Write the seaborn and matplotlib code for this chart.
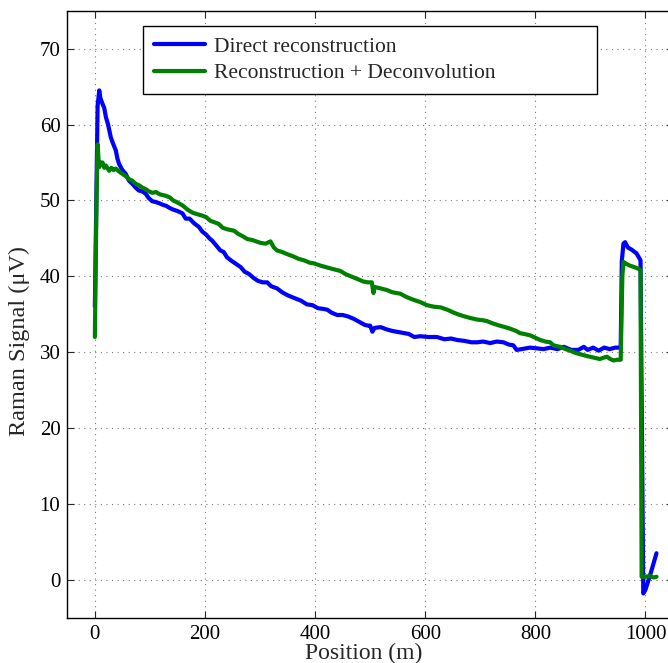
import matplotlib
matplotlib.use("Agg")
import matplotlib.pyplot as plt
import seaborn as sns
import pandas as pd

# Distributed Raman trace along the fibre
direct_pos = [0, 5, 8, 10, 14, 17, 20, 24, 29, 33, 38, 41, 44, 50, 56, 62, 68, 74, 80, 86,
              92, 98, 104, 110, 118, 124, 129, 136, 142, 150, 159, 165, 172, 180, 189, 195,
              202, 208, 213, 220, 228, 234, 240, 247, 255, 265, 272, 280, 288, 296, 305, 313,
              320, 331, 340, 350, 360, 374, 385, 395, 405, 415, 422, 430, 440, 450, 460, 470,
              480, 490, 496, 500, 504, 508, 519, 530, 540, 555, 570, 580, 591, 605, 621, 635,
              647, 658, 670, 684, 694, 705, 718, 730, 742, 752, 760, 766, 775, 790, 803, 815,
              827, 840, 852, 865, 878, 888, 895, 905, 915, 925, 935, 945, 955, 957, 960, 963,
              968, 975, 984, 991, 996, 1000, 1010, 1020]
direct_sig = [36.0, 62.5, 64.5, 63.5, 62.7, 62.2, 61.0, 60.0, 58.3, 57.5, 56.6, 55.5, 54.8,
              54.0, 53.5, 52.6, 52.2, 51.7, 51.3, 51.2, 50.9, 50.3, 49.9, 49.8, 49.6, 49.4,
              49.3, 49.0, 48.8, 48.6, 48.3, 47.6, 47.6, 47.0, 46.5, 45.9, 45.5, 45.0, 44.7,
              44.1, 43.4, 43.2, 42.5, 42.1, 41.7, 41.2, 40.6, 40.3, 39.8, 39.4, 39.2, 39.2,
              38.7, 38.4, 37.9, 37.5, 37.2, 36.8, 36.3, 36.2, 35.8, 35.7, 35.6, 35.2, 34.9,
              34.9, 34.7, 34.4, 34.0, 33.6, 33.5, 33.5, 32.7, 33.2, 33.3, 33.0, 32.8, 32.6,
              32.4, 32.0, 32.1, 32.0, 32.0, 31.7, 31.8, 31.6, 31.5, 31.3, 31.3, 31.4, 31.2,
              31.4, 31.3, 31.0, 30.9, 30.3, 30.4, 30.6, 30.5, 30.4, 30.6, 30.4, 30.7, 30.3,
              30.3, 30.7, 30.3, 30.6, 30.2, 30.6, 30.4, 30.6, 30.6, 42.0, 44.3, 44.5, 43.8,
              43.5, 43.0, 42.1, -1.8, -1.3, 1.0, 3.5]

deconv_pos = [0, 3, 5, 7, 8, 11, 14, 17, 20, 26, 30, 34, 38, 44, 50, 56, 62, 68, 74, 80, 86,
              92, 98, 104, 111, 118, 124, 129, 136, 142, 148, 153, 160, 168, 177, 185, 195,
              202, 210, 218, 225, 232, 240, 247, 253, 260, 268, 277, 285, 293, 301, 310, 319,
              325, 331, 340, 350, 361, 370, 380, 390, 398, 410, 420, 430, 446, 455, 465, 475,
              488, 496, 503, 506, 508, 519, 530, 540, 555, 565, 575, 591, 603, 615, 628, 640,
              652, 663, 672, 682, 694, 705, 712, 722, 735, 745, 754, 765, 772, 780, 791, 800,
              809, 818, 827, 833, 845, 855, 863, 873, 883, 893, 905, 917, 925, 930, 936, 942,
              948, 955, 958, 960, 966, 972, 980, 987, 991, 993, 1000, 1008, 1015, 1020]
deconv_sig = [32.0, 50.0, 57.4, 55.0, 54.4, 55.0, 55.0, 54.3, 54.6, 53.9, 54.3, 54.0, 54.2,
              53.8, 53.5, 53.2, 52.8, 52.6, 52.2, 52.0, 51.7, 51.5, 51.2, 51.0, 51.1, 50.8,
              50.7, 50.6, 50.4, 50.0, 49.8, 49.6, 49.3, 48.8, 48.4, 48.2, 48.0, 47.8, 47.3,
              47.1, 46.9, 46.4, 46.2, 46.1, 46.0, 45.6, 45.3, 44.9, 44.8, 44.6, 44.4, 44.3,
              44.6, 43.8, 43.4, 43.2, 42.9, 42.6, 42.3, 42.1, 41.8, 41.7, 41.4, 41.2, 41.0,
              40.7, 40.3, 40.0, 39.7, 39.3, 39.2, 39.2, 37.8, 38.6, 38.4, 38.2, 37.9, 37.7,
              37.3, 37.0, 36.6, 36.2, 36.0, 35.9, 35.6, 35.2, 34.9, 34.7, 34.5, 34.3, 34.2,
              34.1, 33.8, 33.5, 33.3, 33.1, 32.8, 32.5, 32.4, 32.2, 31.9, 31.6, 31.4, 31.3,
              30.9, 30.7, 30.4, 30.2, 29.9, 29.7, 29.5, 29.3, 29.1, 29.3, 29.4, 29.1, 28.9,
              29.0, 29.0, 40.0, 41.9, 41.6, 41.4, 41.2, 41.0, 40.8, 0.4, 0.4, 0.5, 0.3, 0.4]

series_names = ["Direct reconstruction", "Reconstruction + Deconvolution"]
series_colors = ["#0000ff", "#008000"]
x_ticks = [0, 200, 400, 600, 800, 1000]
y_ticks = [0, 10, 20, 30, 40, 50, 60, 70]

df = pd.concat([
    pd.DataFrame({"pos": direct_pos, "sig": direct_sig, "series": series_names[0]}),
    pd.DataFrame({"pos": deconv_pos, "sig": deconv_sig, "series": series_names[1]}),
], ignore_index=True)

sns.set_style("ticks")
plt.rcParams["font.family"] = ["Liberation Serif", "DejaVu Serif"]
plt.rcParams["mathtext.fontset"] = "stix"

fig = plt.figure(figsize=(6.68, 6.63), dpi=100)
ax = fig.add_axes([0.1008, 0.0683, 0.9067, 0.9155])

sns.lineplot(data=df, x="pos", y="sig", hue="series", palette=series_colors,
             hue_order=series_names, estimator=None, sort=False, linewidth=3.0, ax=ax)

ax.set_xlim(-50, 1050)
ax.set_ylim(-5, 75)
ax.set_xticks(x_ticks)
ax.set_yticks(y_ticks)
ax.tick_params(direction="in", length=5, width=0.8, labelsize=15, top=True, right=True,
               colors="#262626", labelcolor="black", pad=5)
ax.grid(True, linestyle=(0, (1, 4)), color="#7a7a7a", linewidth=0.8)
for s in ax.spines.values():
    s.set_linewidth(1.0)
    s.set_color("black")

ax.set_xlabel("Position (m)", fontsize=17)
ax.set_ylabel("Raman Signal (μV)", fontsize=17.5)
ax.xaxis.set_label_coords(0.49, -0.041)
ax.yaxis.set_label_coords(-0.079, 0.456)
ax.xaxis.label.set_va("top")
ax.yaxis.label.set_va("center")

leg = ax.legend(loc="upper left",
                bbox_to_anchor=(143 / 668, 1 - 89 / 663, (597 - 143) / 668, 63 / 663),
                bbox_transform=fig.transFigure, mode="expand", borderaxespad=0,
                fontsize=15.5, handlelength=2.4, handletextpad=0.4, labelspacing=0.3,
                borderpad=0.5, fancybox=False, framealpha=1, edgecolor="black")
leg.get_frame().set_linewidth(1.0)
for h in leg.get_lines():
    h.set_linewidth(3.0)

fig.savefig("out.png", dpi=100)
